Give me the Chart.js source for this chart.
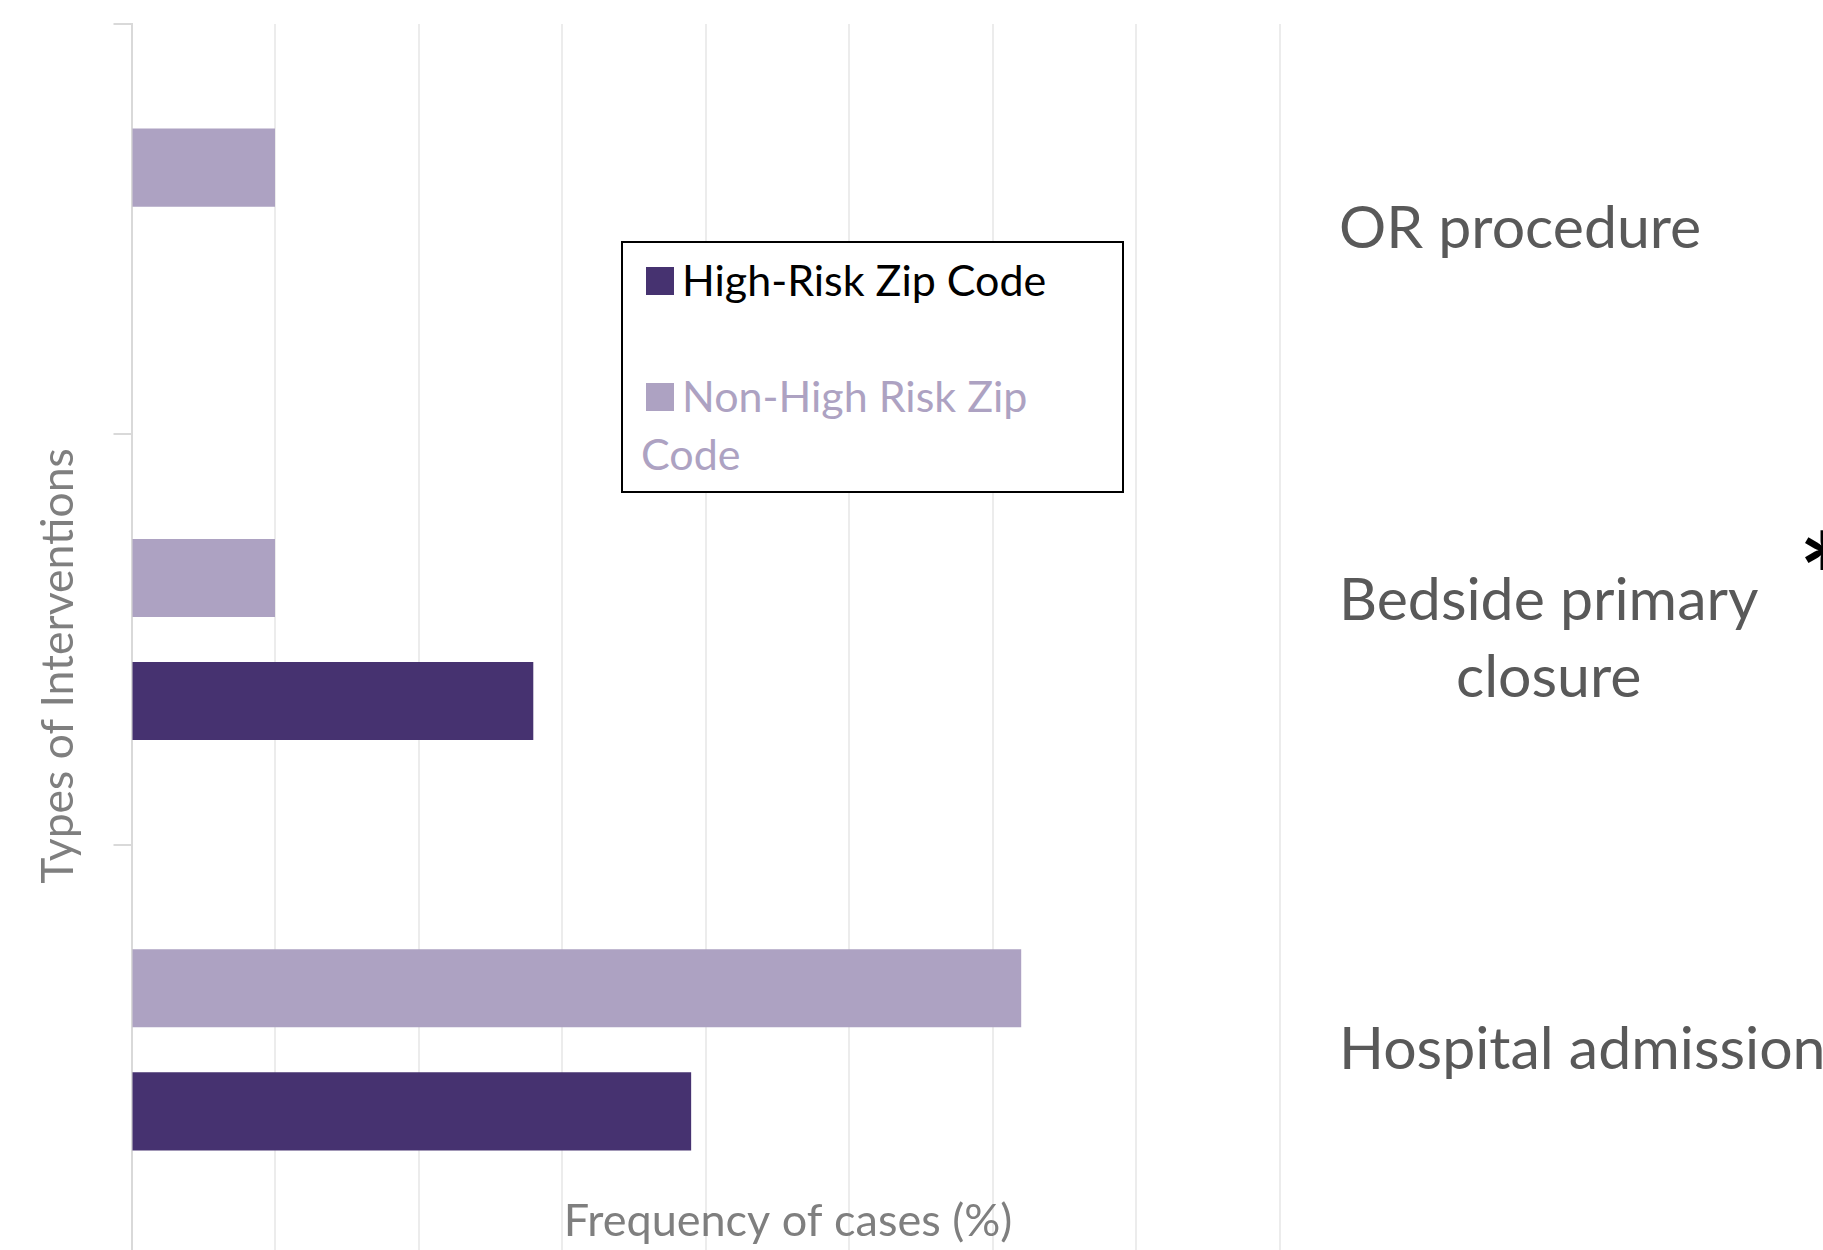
<!DOCTYPE html>
<html>
<head>
<meta charset="utf-8">
<title>Types of Interventions</title>
<script src="https://cdn.jsdelivr.net/npm/chart.js@4/dist/chart.umd.min.js"></script>
<style>
  html, body { margin: 0; padding: 0; background: #fff; overflow: hidden; }
  #wrap { position: relative; width: 1823px; height: 1255px; }
  #legend {
    position: absolute; left: 621px; top: 241px; width: 503px; height: 252px;
    box-sizing: border-box; border: 2px solid #000; background: #fff;
    padding: 8px 40px 8px 18px;
    font-family: Lato, sans-serif; font-size: 43px; line-height: 58px;
  }
  #legend .entry + .entry { margin-top: 58px; }
  #legend .swatch {
    display: inline-block; width: 28px; height: 28px;
    margin: 0 8px 0 5px; vertical-align: middle; position: relative; top: -4px;
  }
</style>
</head>
<body>
<div id="wrap">
  <canvas id="chart" width="1823" height="1255"></canvas>
  <div id="legend"></div>
</div>
<script>
// categories, top to bottom
const categories = ['OR procedure', ['Bedside primary', 'closure'], 'Hospital admission'];
// frequency of cases (%)
const highRisk = [0, 14, 19.5];
const nonHighRisk = [5, 5, 31];
const seriesNames = ['High-Risk Zip Code', 'Non-High Risk Zip Code'];
// x axis has gridlines only, no tick labels
const xMin = 0;
const xMax = 40;
const xStep = 5;

const darkPurple = '#463270';
const lightPurple = '#ada2c2';

// legend box (drawn as html on top of the chart)
const legendEl = document.getElementById('legend');
[[seriesNames[0], darkPurple, '#000'], [seriesNames[1], lightPurple, lightPurple]].forEach(function(item) {
    const div = document.createElement('div');
    div.className = 'entry';
    div.style.color = item[2];
    div.innerHTML = '<span class="swatch" style="background:' + item[1] + '"></span>' + item[0];
    legendEl.appendChild(div);
});

// category labels on the right, axis titles and the asterisk
const sideText = {
    id: 'sideText',
    afterDraw(chart) {
        const ctx = chart.ctx;
        const yScale = chart.scales.y;
        ctx.save();

        ctx.font = '59px Lato';
        ctx.fillStyle = '#595959';
        ctx.textBaseline = 'middle';
        ctx.textAlign = 'left';
        const labelX = 1339;
        categories.forEach(function(label, i) {
            const lines = Array.isArray(label) ? label : [label];
            const yc = yScale.getPixelForValue(i);
            const blockW = Math.max.apply(null, lines.map(l => ctx.measureText(l).width));
            lines.forEach(function(line, j) {
                const w = ctx.measureText(line).width;
                ctx.fillText(line, labelX + (blockW - w) / 2, yc + (j - (lines.length - 1) / 2) * 77);
            });
        });

        // axis titles
        ctx.fillStyle = '#7f7f7f';
        ctx.font = '45px Lato';
        ctx.textAlign = 'center';
        ctx.textBaseline = 'alphabetic';
        ctx.fillText('Frequency of cases (%)', 788, 1236);

        ctx.save();
        ctx.translate(73, 666);
        ctx.rotate(-Math.PI / 2);
        ctx.font = '44.5px Lato';
        ctx.fillText('Types of Interventions', 0, 0);
        ctx.restore();

        // significance marker next to bedside primary closure
        ctx.fillStyle = '#000';
        ctx.font = 'bold 100px Lato';
        ctx.textAlign = 'left';
        const m = ctx.measureText('*');
        const h = m.actualBoundingBoxAscent + m.actualBoundingBoxDescent;
        const size = 100 * 40 / h;
        ctx.font = 'bold ' + size + 'px Lato';
        const m2 = ctx.measureText('*');
        const yMid = yScale.getPixelForValue(1) - 90;
        ctx.fillText('*', 1805 + m2.actualBoundingBoxLeft, yMid - (m2.actualBoundingBoxDescent - m2.actualBoundingBoxAscent) / 2);

        ctx.restore();
    }
};

new Chart(document.getElementById('chart').getContext('2d'), {
    type: 'bar',
    data: {
        labels: categories,
        datasets: [{
            label: seriesNames[1],
            data: nonHighRisk,
            backgroundColor: lightPurple,
            borderWidth: 0
        }, {
            label: seriesNames[0],
            data: highRisk,
            backgroundColor: darkPurple,
            borderWidth: 0
        }]
    },
    options: {
        indexAxis: 'y',
        responsive: false,
        animation: false,
        categoryPercentage: 0.6,
        barPercentage: 0.634,
        layout: {
            padding: { left: 113.5, right: 543.5, top: 24, bottom: 0 }
        },
        plugins: {
            legend: { display: false },
            tooltip: { enabled: false }
        },
        scales: {
            x: {
                min: xMin,
                max: xMax,
                ticks: { display: false, stepSize: xStep },
                grid: { color: '#ececec', lineWidth: 2, drawTicks: false },
                border: { display: false }
            },
            y: {
                ticks: { display: false },
                grid: { drawOnChartArea: false, tickLength: 18, color: '#d9d9d9', lineWidth: 2 },
                border: { display: true, color: '#d9d9d9', width: 2 }
            }
        }
    },
    plugins: [sideText]
});
</script>
</body>
</html>
